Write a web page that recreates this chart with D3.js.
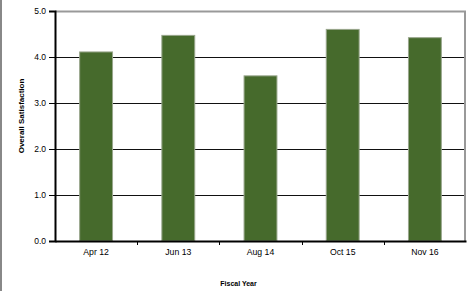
<!DOCTYPE html>
<html>
<head>
<meta charset="utf-8">
<script src="https://cdn.jsdelivr.net/npm/d3@7"></script>
<style>
  body { margin: 0; background: #fff; }
  svg { display: block; font-family: "Liberation Sans", Arial, sans-serif; }
</style>
</head>
<body>
<svg id="chart"></svg>
<script>
// chart data
var categories = ['Apr 12', 'Jun 13', 'Aug 14', 'Oct 15', 'Nov 16'];
var satisfaction = [4.11, 4.47, 3.59, 4.60, 4.42];
var yTicks = [0, 1, 2, 3, 4, 5];

var width = 467, height = 291;
var margin = {top: 11, right: 1, bottom: 50, left: 55};

var svg = d3.select('#chart')
    .attr('width', width)
    .attr('height', height);

// gray frame on the left edge of the picture
svg.append('line')
    .attr('x1', 1).attr('x2', 1)
    .attr('y1', 0).attr('y2', height)
    .style('stroke', '#888')
    .style('stroke-width', 2);

var x = d3.scaleBand()
    .domain(categories)
    .range([margin.left, width - margin.right])
    .paddingInner(0.6)
    .paddingOuter(0.3);

var xEdge = d3.scaleBand()
    .domain(categories)
    .range([margin.left, width - margin.right]);

var y = d3.scaleLinear()
    .domain([0, 5])
    .range([height - margin.bottom, margin.top]);

// gridlines
svg.append('g')
    .attr('class', 'grid')
    .selectAll('line')
    .data(yTicks.filter(function (d) { return d > 0 && d < 5; }))
    .enter()
    .append('line')
    .attr('x1', margin.left)
    .attr('x2', width - margin.right)
    .attr('y1', function (d) { return Math.round(y(d)) + 0.5; })
    .attr('y2', function (d) { return Math.round(y(d)) + 0.5; })
    .style('stroke', '#111')
    .style('stroke-width', 1);

// plot frame, top and right
svg.append('path')
    .attr('d', 'M' + margin.left + ',' + (y(5) + 0.5) + 'H' + (width - margin.right - 1) + 'V' + y(0))
    .style('fill', 'none')
    .style('stroke', '#999')
    .style('stroke-width', 2);

// bars
svg.append('g')
    .attr('class', 'bars')
    .selectAll('rect')
    .data(satisfaction)
    .enter()
    .append('rect')
    .attr('x', function (d, i) { return x(categories[i]); })
    .attr('y', function (d) { return y(d); })
    .attr('width', x.bandwidth())
    .attr('height', function (d) { return y(0) - y(d); })
    .style('fill', '#466a2c')
    .style('stroke', '#98a68c')
    .style('stroke-width', 1);

// y axis
var yAxis = svg.append('g')
    .attr('transform', 'translate(' + margin.left + ',0)')
    .call(d3.axisLeft(y).tickValues(yTicks).tickFormat(d3.format('.1f')).tickSize(6).tickPadding(3));
yAxis.select('.domain').style('stroke', '#000').style('stroke-width', 2);
yAxis.selectAll('.tick line').style('stroke', '#000');
yAxis.selectAll('text').style('font-size', '8.5px').style('fill', '#000')
    .style('font-family', '"Liberation Sans", Arial, sans-serif');

// x axis, ticks at the category boundaries
var xAxis = svg.append('g')
    .attr('transform', 'translate(0,' + y(0) + ')')
    .call(d3.axisBottom(x).tickSize(0).tickPadding(8));
xAxis.select('.domain').style('stroke', '#000').style('stroke-width', 2);
xAxis.selectAll('text').style('font-size', '8.7px').style('fill', '#000')
    .style('font-family', '"Liberation Sans", Arial, sans-serif');

svg.append('g')
    .selectAll('line')
    .data(categories.slice(1))
    .enter()
    .append('line')
    .attr('x1', function (d) { return Math.round(xEdge(d)) + 0.5; })
    .attr('x2', function (d) { return Math.round(xEdge(d)) + 0.5; })
    .attr('y1', y(0))
    .attr('y2', y(0) + 4)
    .style('stroke', '#000');

// axis titles
svg.append('text')
    .attr('x', 238.5)
    .attr('y', 286)
    .attr('text-anchor', 'middle')
    .style('font-size', '7px')
    .style('font-weight', 'bold')
    .text('Fiscal Year');

svg.append('text')
    .attr('transform', 'translate(24,116) rotate(-90)')
    .attr('text-anchor', 'middle')
    .style('font-size', '8px')
    .style('font-weight', 'bold')
    .text('Overall Satisfaction');
</script>
</body>
</html>
